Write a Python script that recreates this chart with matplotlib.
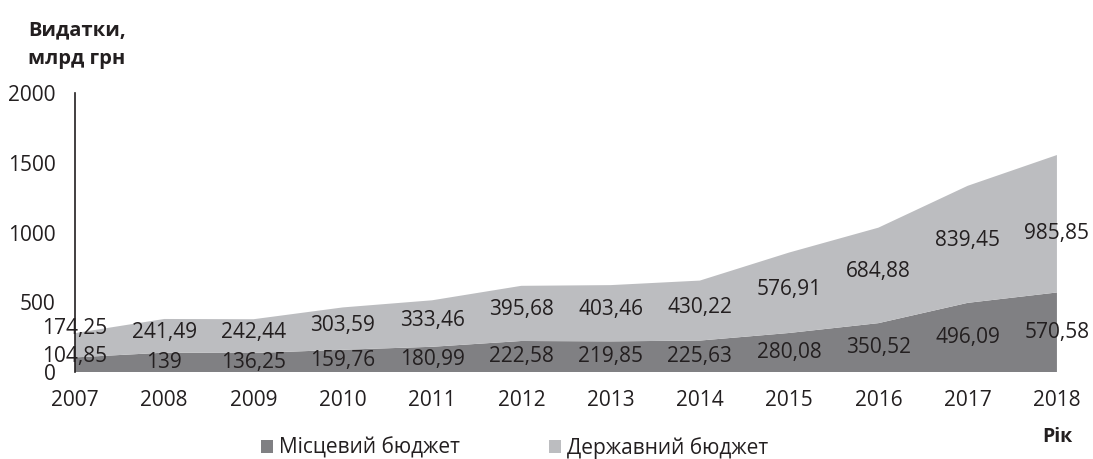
import matplotlib
matplotlib.use("Agg")
import matplotlib.pyplot as plt
import numpy as np

# Data
years = [2007, 2008, 2009, 2010, 2011, 2012, 2013, 2014, 2015, 2016, 2017, 2018]
local_budget = [104.85, 139, 136.25, 159.76, 180.99, 222.58, 219.85, 225.63, 280.08, 350.52, 496.09, 570.58]
state_budget = [174.25, 241.49, 242.44, 303.59, 333.46, 395.68, 403.46, 430.22, 576.91, 684.88, 839.45, 985.85]
local_labels = ["104,85", "139", "136,25", "159,76", "180,99", "222,58", "219,85", "225,63", "280,08", "350,52", "496,09", "570,58"]
state_labels = ["174,25", "241,49", "242,44", "303,59", "333,46", "395,68", "403,46", "430,22", "576,91", "684,88", "839,45", "985,85"]
y_ticks = [0, 500, 1000, 1500, 2000]

TEXT = "#231f20"
DARK = "#808083"
LIGHT = "#bcbdc0"

plt.rcParams["font.family"] = ["Open Sans", "DejaVu Sans"]

fig = plt.figure(figsize=(10.93, 4.59), dpi=100)
ax = fig.add_axes([0.0686, 0.1895, 0.8984, 0.6075])

x = np.arange(len(years))
local = np.array(local_budget)
state = np.array(state_budget)
polys = ax.stackplot(x, local, state, colors=[DARK, LIGHT], linewidth=0,
                     labels=["Місцевий бюджет", "Державний бюджет"])

# data labels (end points nudged a bit like the original)
local_dy = np.zeros(len(x))
local_dy[0] = 6
state_dy = np.full(len(x), 2.5)
state_dy[0] = 12
state_dy[-1] = -7
for i in x:
    ax.annotate(local_labels[i], (i, local[i] / 2), xytext=(0, local_dy[i]),
                textcoords="offset points", ha="center", va="center",
                fontsize=15, color=TEXT)
    ax.annotate(state_labels[i], (i, local[i] + state[i] / 2), xytext=(0, state_dy[i]),
                textcoords="offset points", ha="center", va="center",
                fontsize=15, color=TEXT)

ax.set_xlim(0, len(x) - 1)
ax.set_ylim(0, 2000)
ax.set_xticks(x)
ax.set_xticklabels([str(y) for y in years])
ax.set_yticks(y_ticks)
ax.tick_params(axis="x", length=0, pad=13, labelsize=15, labelcolor=TEXT)
ax.tick_params(axis="y", length=0, pad=14, labelsize=15, labelcolor=TEXT)
for s in ["top", "right", "bottom"]:
    ax.spines[s].set_visible(False)
ax.spines["left"].set_color(TEXT)
ax.spines["left"].set_linewidth(1.2)
ax.set_axisbelow(False)

fig.text(0.026, 0.902, "Видатки,\nмлрд грн", fontsize=14.5, fontweight="bold",
         color=TEXT, ha="left", va="center", linespacing=1.55)
fig.text(0.967, 0.047, "Рік", fontsize=14, fontweight="bold", color=TEXT,
         ha="center", va="center")

fig.legend(handles=polys, labels=["Місцевий бюджет", "Державний бюджет"],
           loc="center", bbox_to_anchor=(0.471, 0.024), ncol=2, frameon=False,
           fontsize=15, handlelength=0.55, handleheight=0.55, handletextpad=0.3,
           columnspacing=4.3, labelcolor=TEXT)

fig.savefig("out.png", dpi=100)
